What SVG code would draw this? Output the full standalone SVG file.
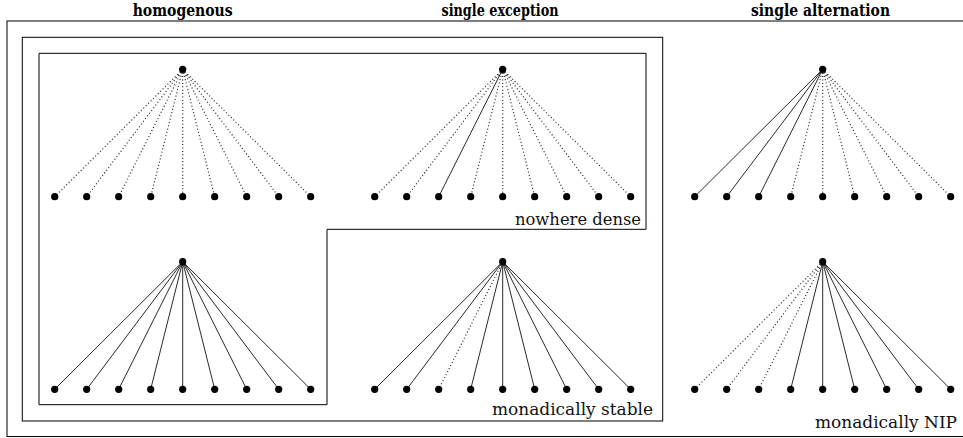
<svg xmlns="http://www.w3.org/2000/svg" width="963" height="438" viewBox="0 0 963 438">
<style>
.box{fill:none;stroke:#000;stroke-width:1}
.s{stroke:#111;stroke-width:0.9;fill:none}
.d{stroke:#222;stroke-width:1.2;fill:none;stroke-dasharray:1 2.4}
.n{fill:#000}
.h{font-family:"DejaVu Serif","Liberation Serif","Noto Serif",serif;font-weight:bold;font-size:16px;text-anchor:middle;fill:#000}
.l{font-family:"DejaVu Serif","Liberation Serif","Noto Serif",serif;font-size:16px;text-anchor:end;fill:#111}
</style>
<g id="frames">
<rect class="box" x="7" y="21" width="975" height="415.5"/>
<rect class="box" x="22.3" y="37.3" width="640.4" height="383.7"/>
<path class="box" d="M39,53.3 H646 V229.3 H327 V404.7 H39 Z"/>
</g>
<g id="headings">
<text class="h" x="182.7" y="16" textLength="100" lengthAdjust="spacingAndGlyphs">homogenous</text>
<text class="h" x="500" y="16" textLength="117" lengthAdjust="spacingAndGlyphs">single exception</text>
<text class="h" x="820.5" y="16" textLength="139" lengthAdjust="spacingAndGlyphs">single alternation</text>
</g>
<g id="labels">
<text class="l" x="641" y="225" textLength="126" lengthAdjust="spacingAndGlyphs">nowhere dense</text>
<text class="l" x="653" y="414.5" textLength="161" lengthAdjust="spacingAndGlyphs">monadically stable</text>
<text class="l" x="957" y="428" textLength="142" lengthAdjust="spacingAndGlyphs">monadically NIP</text>
</g>
<g id="connectors">
<g id="e-h-top">
<path class="d" d="M182.7,69.3L54.7,196.7M182.7,69.3L86.7,196.7M182.7,69.3L118.7,196.7M182.7,69.3L150.7,196.7M182.7,69.3L182.7,196.7M182.7,69.3L214.7,196.7M182.7,69.3L246.7,196.7M182.7,69.3L278.7,196.7M182.7,69.3L310.7,196.7"/>
</g>
<g id="e-h-bot">
<path class="s" d="M182.7,261.7L54.7,389.3M182.7,261.7L86.7,389.3M182.7,261.7L118.7,389.3M182.7,261.7L150.7,389.3M182.7,261.7L182.7,389.3M182.7,261.7L214.7,389.3M182.7,261.7L246.7,389.3M182.7,261.7L278.7,389.3M182.7,261.7L310.7,389.3"/>
</g>
<g id="e-e-top">
<path class="d" d="M502.7,69.3L374.7,196.7M502.7,69.3L406.7,196.7M502.7,69.3L470.7,196.7M502.7,69.3L502.7,196.7M502.7,69.3L534.7,196.7M502.7,69.3L566.7,196.7M502.7,69.3L598.7,196.7M502.7,69.3L630.7,196.7"/>
<path class="s" d="M502.7,69.3L438.7,196.7"/>
</g>
<g id="e-e-bot">
<path class="s" d="M502.7,261.7L374.7,389.3M502.7,261.7L406.7,389.3M502.7,261.7L470.7,389.3M502.7,261.7L502.7,389.3M502.7,261.7L534.7,389.3M502.7,261.7L566.7,389.3M502.7,261.7L598.7,389.3M502.7,261.7L630.7,389.3"/>
<path class="d" d="M502.7,261.7L438.7,389.3"/>
</g>
<g id="e-a-top">
<path class="s" d="M822.7,69.3L694.7,196.7M822.7,69.3L726.7,196.7M822.7,69.3L758.7,196.7"/>
<path class="d" d="M822.7,69.3L790.7,196.7M822.7,69.3L822.7,196.7M822.7,69.3L854.7,196.7M822.7,69.3L886.7,196.7M822.7,69.3L918.7,196.7M822.7,69.3L950.7,196.7"/>
</g>
<g id="e-a-bot">
<path class="d" d="M822.7,261.7L694.7,389.3M822.7,261.7L726.7,389.3M822.7,261.7L758.7,389.3"/>
<path class="s" d="M822.7,261.7L790.7,389.3M822.7,261.7L822.7,389.3M822.7,261.7L854.7,389.3M822.7,261.7L886.7,389.3M822.7,261.7L918.7,389.3M822.7,261.7L950.7,389.3"/>
</g>
</g>
<g id="nodes">
<g id="root-h-top"><circle class="n" cx="182.7" cy="69.3" r="3.6"/></g>
<g id="leaves-h-top">
<circle class="n" cx="54.7" cy="196.7" r="3.6"/><circle class="n" cx="86.7" cy="196.7" r="3.6"/><circle class="n" cx="118.7" cy="196.7" r="3.6"/><circle class="n" cx="150.7" cy="196.7" r="3.6"/><circle class="n" cx="182.7" cy="196.7" r="3.6"/><circle class="n" cx="214.7" cy="196.7" r="3.6"/><circle class="n" cx="246.7" cy="196.7" r="3.6"/><circle class="n" cx="278.7" cy="196.7" r="3.6"/><circle class="n" cx="310.7" cy="196.7" r="3.6"/>
</g>
<g id="root-h-bot"><circle class="n" cx="182.7" cy="261.7" r="3.6"/></g>
<g id="leaves-h-bot">
<circle class="n" cx="54.7" cy="389.3" r="3.6"/><circle class="n" cx="86.7" cy="389.3" r="3.6"/><circle class="n" cx="118.7" cy="389.3" r="3.6"/><circle class="n" cx="150.7" cy="389.3" r="3.6"/><circle class="n" cx="182.7" cy="389.3" r="3.6"/><circle class="n" cx="214.7" cy="389.3" r="3.6"/><circle class="n" cx="246.7" cy="389.3" r="3.6"/><circle class="n" cx="278.7" cy="389.3" r="3.6"/><circle class="n" cx="310.7" cy="389.3" r="3.6"/>
</g>
<g id="root-e-top"><circle class="n" cx="502.7" cy="69.3" r="3.6"/></g>
<g id="leaves-e-top">
<circle class="n" cx="374.7" cy="196.7" r="3.6"/><circle class="n" cx="406.7" cy="196.7" r="3.6"/><circle class="n" cx="438.7" cy="196.7" r="3.6"/><circle class="n" cx="470.7" cy="196.7" r="3.6"/><circle class="n" cx="502.7" cy="196.7" r="3.6"/><circle class="n" cx="534.7" cy="196.7" r="3.6"/><circle class="n" cx="566.7" cy="196.7" r="3.6"/><circle class="n" cx="598.7" cy="196.7" r="3.6"/><circle class="n" cx="630.7" cy="196.7" r="3.6"/>
</g>
<g id="root-e-bot"><circle class="n" cx="502.7" cy="261.7" r="3.6"/></g>
<g id="leaves-e-bot">
<circle class="n" cx="374.7" cy="389.3" r="3.6"/><circle class="n" cx="406.7" cy="389.3" r="3.6"/><circle class="n" cx="438.7" cy="389.3" r="3.6"/><circle class="n" cx="470.7" cy="389.3" r="3.6"/><circle class="n" cx="502.7" cy="389.3" r="3.6"/><circle class="n" cx="534.7" cy="389.3" r="3.6"/><circle class="n" cx="566.7" cy="389.3" r="3.6"/><circle class="n" cx="598.7" cy="389.3" r="3.6"/><circle class="n" cx="630.7" cy="389.3" r="3.6"/>
</g>
<g id="root-a-top"><circle class="n" cx="822.7" cy="69.3" r="3.6"/></g>
<g id="leaves-a-top">
<circle class="n" cx="694.7" cy="196.7" r="3.6"/><circle class="n" cx="726.7" cy="196.7" r="3.6"/><circle class="n" cx="758.7" cy="196.7" r="3.6"/><circle class="n" cx="790.7" cy="196.7" r="3.6"/><circle class="n" cx="822.7" cy="196.7" r="3.6"/><circle class="n" cx="854.7" cy="196.7" r="3.6"/><circle class="n" cx="886.7" cy="196.7" r="3.6"/><circle class="n" cx="918.7" cy="196.7" r="3.6"/><circle class="n" cx="950.7" cy="196.7" r="3.6"/>
</g>
<g id="root-a-bot"><circle class="n" cx="822.7" cy="261.7" r="3.6"/></g>
<g id="leaves-a-bot">
<circle class="n" cx="694.7" cy="389.3" r="3.6"/><circle class="n" cx="726.7" cy="389.3" r="3.6"/><circle class="n" cx="758.7" cy="389.3" r="3.6"/><circle class="n" cx="790.7" cy="389.3" r="3.6"/><circle class="n" cx="822.7" cy="389.3" r="3.6"/><circle class="n" cx="854.7" cy="389.3" r="3.6"/><circle class="n" cx="886.7" cy="389.3" r="3.6"/><circle class="n" cx="918.7" cy="389.3" r="3.6"/><circle class="n" cx="950.7" cy="389.3" r="3.6"/>
</g>
</g>
</svg>
